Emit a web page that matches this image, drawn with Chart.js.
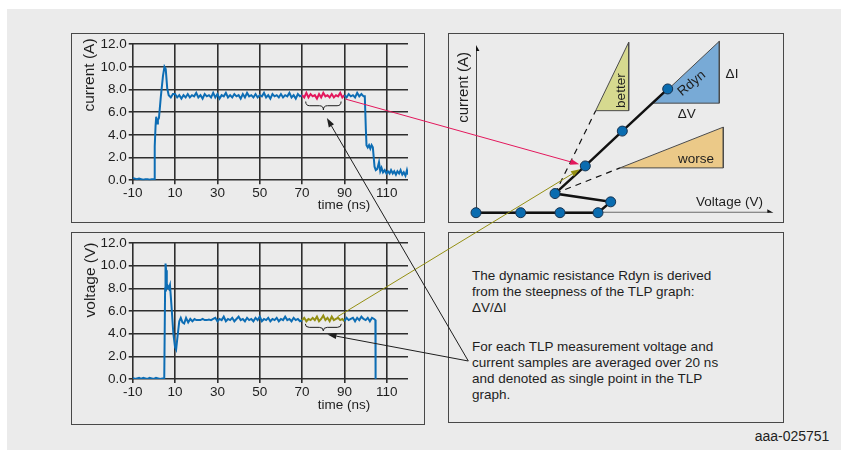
<!DOCTYPE html>
<html>
<head>
<meta charset="utf-8">
<title>TLP dynamic resistance</title>
<script src="https://cdn.jsdelivr.net/npm/chart.js@4.4.1/dist/chart.umd.min.js"></script>
<style>
  html, body { margin: 0; padding: 0; background: #fff; }
  body { width: 841px; height: 450px; position: relative; overflow: hidden;
         font-family: "Liberation Sans", Arial, sans-serif; color: #1e1e1e; }
  .bg { position: absolute; left: 7px; top: 9px; right: 0; bottom: 0; background: #ebebeb; }
  .box { position: absolute; border: 1.5px solid #484848; box-sizing: border-box; }
  canvas { position: absolute; }
  .lbl { position: absolute; font-size: 13.5px; line-height: 1; white-space: nowrap;
         transform: translate(-50%, -50%); }
  .rot { transform: translate(-50%, -50%) rotate(-90deg); font-size: 15.5px; }
  .note { position: absolute; left: 472px; font-size: 13.5px; line-height: 16px; margin: 0; }
  #overlay { position: absolute; left: 0; top: 0; pointer-events: none; }
</style>
</head>
<body>
<div class="bg"></div>
<div class="box" style="left:71px;top:33px;width:354px;height:190px"></div>
<div class="box" style="left:71px;top:232px;width:354px;height:193px"></div>
<div class="box" style="left:448px;top:33px;width:336px;height:190px"></div>
<div class="box" style="left:448px;top:232px;width:336px;height:191px"></div>

<canvas id="currentChart" width="352" height="188" style="left:72px;top:34px"></canvas>
<canvas id="voltageChart" width="352" height="191" style="left:72px;top:233px"></canvas>
<canvas id="tlpChart" width="334" height="188" style="left:449px;top:34px"></canvas>

<div class="lbl rot" style="left:89px;top:75px">current (A)</div>
<div class="lbl" style="left:344px;top:205px">time (ns)</div>
<div class="lbl rot" style="left:90px;top:280px">voltage (V)</div>
<div class="lbl" style="left:344px;top:405px">time (ns)</div>

<p class="note" id="note1" style="top:268px">The dynamic resistance Rdyn is derived<br>from the steepness of the TLP graph:<br>&Delta;V/&Delta;I</p>
<p class="note" id="note2" style="top:339px">For each TLP measurement voltage and<br>current samples are averaged over 20 ns<br>and denoted as single point in the TLP<br>graph.</p>
<div class="lbl" style="left:792px;top:436px;font-size:14px">aaa-025751</div>

<svg id="overlay" width="841" height="450"></svg>

<script>
const timeTicks = [-10, 10, 30, 50, 70, 90, 110];
const levelTicks = [0, 2, 4, 6, 8, 10, 12];
const averagingWindow = [70, 90];

const currentTime = [
  -10, -9, -8, -7, -6, -5, -4, -3, -2, -1, 0,
  0.2, 0.4, 0.8, 1.1, 1.5, 1.9, 2.4, 3.3, 4.3, 5.0, 5.6, 6.3, 7, 8, 9,
  10, 11, 12, 13, 14, 15, 16, 17, 18, 19,
  20, 21, 22, 23, 24, 25, 26, 27, 28, 29,
  30, 31, 32, 33, 34, 35, 36, 37, 38, 39,
  40, 41, 42, 43, 44, 45, 46, 47, 48, 49,
  50, 51, 52, 53, 54, 55, 56, 57, 58, 59,
  60, 61, 62, 63, 64, 65, 66, 67, 68, 69,
  70, 71, 72, 73, 74, 75, 76, 77, 78, 79,
  80, 81, 82, 83, 84, 85, 86, 87, 88, 89,
  90, 91, 92, 93, 94, 95, 96, 97, 98, 99,
  99.6, 100.1, 100.4, 101, 101.6, 102.2, 102.8, 103.4, 104.2, 104.8,
  105.5, 106.3, 106.9, 107.5, 108.2, 109, 109.8, 110.5, 111.3, 112,
  112.8, 113.5, 114.3, 115, 115.8, 116.5, 117.3, 118, 118.8, 119.5, 120
];
const currentA = [
  0.2, 0.15, 0.1, 0.15, 0.1, 0.05, 0.1, 0.1, 0.05, 0.1, 0.1,
  0.1, 3.0, 4.8, 5.6, 5.0, 5.3, 5.5, 7.4, 9.2, 10.0, 9.8, 8.1, 7.5, 7.3, 7.6,
  7.6, 7.3, 7.5, 7.2, 7.5, 7.3, 7.6, 7.3, 7.5, 7.4,
  7.7, 7.3, 7.5, 7.2, 7.6, 7.4, 7.5, 7.3, 7.7, 7.3,
  7.6, 7.2, 7.5, 7.4, 7.7, 7.3, 7.5, 7.3, 7.6, 7.4,
  7.5, 7.2, 7.6, 7.3, 7.7, 7.4, 7.5, 7.3, 7.6, 7.3,
  7.5, 7.4, 7.7, 7.3, 7.5, 7.2, 7.6, 7.4, 7.5, 7.3,
  7.6, 7.3, 7.5, 7.4, 7.7, 7.3, 7.5, 7.2, 7.6, 7.4,
  7.5, 7.3, 7.7, 7.3, 7.6, 7.4, 7.5, 7.2, 7.6, 7.3,
  7.7, 7.4, 7.5, 7.3, 7.6, 7.3, 7.5, 7.4, 7.7, 7.3,
  7.5, 7.3, 7.6, 7.4, 7.5, 7.3, 7.7, 7.4, 7.6, 7.4,
  7.4, 4.5, 3.1, 2.9, 3.1, 2.8, 3.1, 2.9, 1.2, 0.9,
  1.0, 1.6, 0.8, 1.1, 0.7, 0.9, 0.6, 0.8, 0.6, 0.9,
  0.6, 0.8, 0.5, 0.8, 0.6, 0.9, 0.5, 0.7, 0.4, 0.9, 0.5
];

const voltageTime = [
  -10, -9, -8, -7, -6, -5, -4, -3, -2, -1, 0, 1, 2, 3, 4,
  4.9, 5.3, 5.5, 5.8, 6.1, 6.6, 7.1, 7.6, 8.3, 9.2, 10.0, 10.5, 11.2, 12.0,
  12.7, 13.5, 14.3, 15.2, 16.2, 17.2, 18.2, 19.2,
  20, 21, 22, 23, 24, 25, 26, 27, 28,
  29, 30, 31, 32, 33, 34, 35, 36, 37, 38,
  39, 40, 41, 42, 43, 44, 45, 46, 47, 48,
  49, 50, 51, 52, 53, 54, 55, 56, 57, 58,
  59, 60, 61, 62, 63, 64, 65, 66, 67, 68,
  69, 70, 71, 72, 73, 74, 75, 76, 77, 78,
  79, 80, 81, 82, 83, 84, 85, 86, 87, 88,
  89, 90, 91, 92, 93, 94, 95, 96, 97, 98,
  99, 100, 101, 102, 103, 104, 104.6, 104.7
];
const voltageV = [
  0.1, 0.0, 0.05, 0.1, 0.0, 0.1, 0.05, 0.0, 0.1, 0.05, 0.0, 0.1, 0.05, 0.0, 0.05,
  0.05, 8.0, 10.2, 9.6, 8.0, 8.2, 8.0, 8.3, 6.5, 4.0, 2.8, 2.6, 3.8, 5.1,
  5.4, 5.0, 4.9, 5.4, 5.0, 5.3, 5.1, 5.3,
  5.2, 5.2, 5.2, 5.3, 5.2, 5.2, 5.25, 5.2, 5.3,
  5.4, 5.1, 5.3, 5.2, 5.5, 5.1, 5.3, 5.2, 5.4, 5.1,
  5.3, 5.5, 5.2, 5.3, 5.1, 5.4, 5.2, 5.3, 5.1, 5.4,
  5.2, 5.5, 5.1, 5.3, 5.2, 5.4, 5.1, 5.3, 5.2, 5.4,
  5.1, 5.3, 5.2, 5.5, 5.2, 5.3, 5.1, 5.4, 5.2, 5.3,
  5.1, 5.2, 5.4, 5.1, 5.3, 5.2, 5.4, 5.2, 5.5, 5.1,
  5.3, 5.6, 5.2, 5.4, 5.1, 5.5, 5.2, 5.3, 5.4, 5.2,
  5.3, 5.1, 5.4, 5.2, 5.3, 5.4, 5.1, 5.4, 5.2, 5.5,
  5.3, 5.2, 5.4, 5.1, 5.4, 5.3, 5.2, 0.0
];

// TLP sketch (arbitrary units, no ticks)
const tlpVoltage = [0, 4.47, 8.4, 12.2, 13.47, 7.9, 10.93, 14.63, 19.17];
const tlpCurrent = [0, 0, 0, 0, 1.1, 1.94, 4.74, 8.27, 12.54];
// right triangles: [left, right] and [base, top]
const betterX = [11.97, 15.27];
const betterY = [10.34, 17.27];
const worseX = [14.4, 24.73];
const worseY = [4.54, 8.67];
const rdynX = [17.73, 24.33];
const rdynY = [11.1, 17.37];

const BLUE = '#0d6db4';
const RED = '#e3175c';
const OLIVE = '#948f12';
const GRID = '#2e2e2e';
const FONT = { family: '"Liberation Sans", Arial, sans-serif', size: 13.5 };

function points(xs, ys) {
  return xs.map((x, i) => ({ x, y: ys[i] }));
}

function waveChart(id, times, values, highlight, xHeight, padTop) {
  return new Chart(document.getElementById(id), {
    type: 'line',
    data: {
      datasets: [{
        data: points(times, values),
        borderColor: BLUE,
        borderWidth: 2,
        pointRadius: 0,
        tension: 0,
        segment: {
          borderColor: (c) => (c.p0.parsed.x >= averagingWindow[0] && c.p1.parsed.x <= averagingWindow[1]) ? highlight : undefined
        }
      }]
    },
    options: {
      responsive: false,
      animation: false,
      events: [],
      layout: { padding: { top: padTop, right: 16, left: 0, bottom: 0 } },
      plugins: { legend: { display: false }, tooltip: { enabled: false } },
      scales: {
        x: {
          type: 'linear', min: -10, max: 120,
          afterBuildTicks: (s) => { s.ticks = timeTicks.map((v) => ({ value: v })); },
          afterFit: (s) => { s.height = xHeight; },
          grid: { color: GRID, lineWidth: 1.6, tickLength: 4 },
          border: { display: false },
          ticks: { font: FONT, color: '#1e1e1e', padding: 1, maxRotation: 0, autoSkip: false }
        },
        y: {
          min: 0, max: 12,
          afterBuildTicks: (s) => { s.ticks = levelTicks.map((v) => ({ value: v })); },
          afterFit: (s) => { s.width = 60.7; },
          grid: { color: GRID, lineWidth: 1.6, tickLength: 4 },
          border: { display: false },
          ticks: { font: FONT, color: '#1e1e1e', padding: 2, callback: (v) => Number(v).toFixed(1) }
        }
      }
    }
  });
}

const currentChart = waveChart('currentChart', currentTime, currentA, RED, 41.7, 9.3);
const voltageChart = waveChart('voltageChart', voltageTime, voltageV, OLIVE, 45, 8.7);

const tlpText = {
  id: 'tlpText',
  afterDatasetsDraw(chart, args, opts) {
    const { ctx, scales: { x, y } } = chart;
    opts.items.forEach((item) => {
      ctx.save();
      ctx.translate(x.getPixelForValue(item.x), y.getPixelForValue(item.y));
      ctx.rotate(item.angle * Math.PI / 180);
      ctx.font = (item.size || 13.5) + 'px "Liberation Sans", Arial, sans-serif';
      ctx.fillStyle = '#1e1e1e';
      ctx.textAlign = 'center';
      ctx.textBaseline = 'middle';
      ctx.fillText(item.text, 0, 0);
      ctx.restore();
    });
  }
};

// filled hypotenuse + right edge, and the base edge as its own line
function triangle(xs, ys, color) {
  return [
    {
      data: [{ x: xs[0], y: ys[0] }, { x: xs[1], y: ys[1] }, { x: xs[1], y: ys[0] }],
      borderColor: '#4a4a4a', borderWidth: 1, backgroundColor: color,
      fill: { value: ys[0] }, pointRadius: 0, order: 5
    },
    {
      data: [{ x: xs[0], y: ys[0] }, { x: xs[1], y: ys[0] }],
      borderColor: '#4a4a4a', borderWidth: 1, pointRadius: 0, order: 4
    }
  ];
}

const tlpChart = new Chart(document.getElementById('tlpChart'), {
  type: 'line',
  data: {
    datasets: [
      {
        data: points(tlpVoltage, tlpCurrent), borderColor: '#111', borderWidth: 2.5,
        pointRadius: 5, pointBackgroundColor: '#0a6cb0', pointBorderColor: '#17324f',
        pointBorderWidth: 1, clip: false, order: 0
      },
      { data: [{ x: 0, y: 0 }, { x: 29.3, y: 0 }], borderColor: '#6a6a6a', borderWidth: 2, pointRadius: 0, order: 2 },
      { data: [{ x: 0, y: 0 }, { x: 0, y: 16.6 }], borderColor: '#111', borderWidth: 1.5, pointRadius: 0, order: 2 },
      {
        data: [{ x: 29.33, y: 0 }, { x: 0, y: 16.6 }], showLine: false, pointStyle: 'triangle',
        pointRadius: 4, pointRotation: [90, 0], pointBackgroundColor: '#111', pointBorderWidth: 0, order: 1
      },
      {
        data: [{ x: tlpVoltage[5], y: tlpCurrent[5] }, { x: betterX[0], y: betterY[0] }],
        borderColor: '#111', borderWidth: 1.2, borderDash: [6, 5], pointRadius: 0, order: 3
      },
      {
        data: [{ x: tlpVoltage[5], y: tlpCurrent[5] }, { x: worseX[0], y: worseY[0] }],
        borderColor: '#111', borderWidth: 1.2, borderDash: [6, 5], pointRadius: 0, order: 3
      },
      ...triangle(betterX, betterY, '#d6d98f'),
      ...triangle(worseX, worseY, '#ebc988'),
      ...triangle(rdynX, rdynY, '#78aad6')
    ]
  },
  options: {
    responsive: false,
    animation: false,
    events: [],
    layout: { padding: { left: 27, right: 7, top: 3.7, bottom: 9.3 } },
    scales: {
      x: { type: 'linear', min: 0, max: 30, display: false },
      y: { min: 0, max: 17.5, display: false }
    },
    plugins: {
      legend: { display: false },
      tooltip: { enabled: false },
      tlpText: {
        items: [
          { text: 'better', x: 14.5, y: 12.37, angle: -90 },
          { text: 'worse', x: 22.0, y: 5.44, angle: 0 },
          { text: 'Rdyn', x: 21.57, y: 13.1, angle: -40 },
          { text: '\u0394I', x: 25.6, y: 14.0, angle: 0 },
          { text: '\u0394V', x: 21.07, y: 9.94, angle: 0 },
          { text: 'Voltage (V)', x: 25.35, y: 1.1, angle: 0 },
          { text: 'current (A)', x: -1.2, y: 12.7, angle: -90, size: 15 }
        ]
      }
    }
  },
  plugins: [tlpText]
});

// overlay: braces and pointer arrows between the panels
const svg = document.getElementById('overlay');
const NS = 'http://www.w3.org/2000/svg';

function pagePoint(chart, xv, yv) {
  const r = chart.canvas.getBoundingClientRect();
  return [r.left + chart.scales.x.getPixelForValue(xv), r.top + chart.scales.y.getPixelForValue(yv)];
}

function add(tag, attrs) {
  const el = document.createElementNS(NS, tag);
  Object.entries(attrs).forEach(([k, v]) => el.setAttribute(k, v));
  svg.appendChild(el);
  return el;
}

function arrow(from, to, color, width, back, headLen, headHalf) {
  const dx = to[0] - from[0];
  const dy = to[1] - from[1];
  const len = Math.hypot(dx, dy);
  const ux = dx / len;
  const uy = dy / len;
  const tip = [to[0] - ux * back, to[1] - uy * back];
  const base = [tip[0] - ux * headLen, tip[1] - uy * headLen];
  add('line', { x1: from[0], y1: from[1], x2: base[0], y2: base[1], stroke: color, 'stroke-width': width });
  const pts = [tip, [base[0] - uy * headHalf, base[1] + ux * headHalf], [base[0] + uy * headHalf, base[1] - ux * headHalf]];
  add('polygon', { points: pts.map((p) => p.join(',')).join(' '), fill: color });
}

function brace(chart, t0, t1, top, tip) {
  const [x0, y0] = pagePoint(chart, t0, top);
  const [x1] = pagePoint(chart, t1, top);
  const [, y1] = pagePoint(chart, (t0 + t1) / 2, tip);
  const xm = (x0 + x1) / 2;
  const ym = (y0 + y1) / 2;
  const d = `M${x0},${y0} Q${x0},${ym} ${x0 + 4},${ym} L${xm - 4},${ym} Q${xm},${ym} ${xm},${y1}` +
            ` Q${xm},${ym} ${xm + 4},${ym} L${x1 - 4},${ym} Q${x1},${ym} ${x1},${y0}`;
  add('path', { d, fill: 'none', stroke: '#1e1e1e', 'stroke-width': 1 });
}

brace(currentChart, 71.7, 88.4, 6.94, 6.2);
brace(voltageChart, 71.5, 88.5, 4.87, 4.25);

const p7 = pagePoint(tlpChart, tlpVoltage[6], tlpCurrent[6]);
arrow(pagePoint(currentChart, 90.6, 7.15), p7, RED, 1, 6.3, 9, 3);
arrow(pagePoint(voltageChart, 86.7, 5.5), p7, OLIVE, 1, 6.3, 9, 3);

const noteRect = document.getElementById('note2').getBoundingClientRect();
const source = [noteRect.left - 3.7, noteRect.top + 22];
arrow(source, pagePoint(currentChart, 81.7, 5.48), '#1e1e1e', 1, 0, 9, 3);
arrow(source, pagePoint(voltageChart, 82, 3.93), '#1e1e1e', 1, 0, 9, 3);
</script>
</body>
</html>
